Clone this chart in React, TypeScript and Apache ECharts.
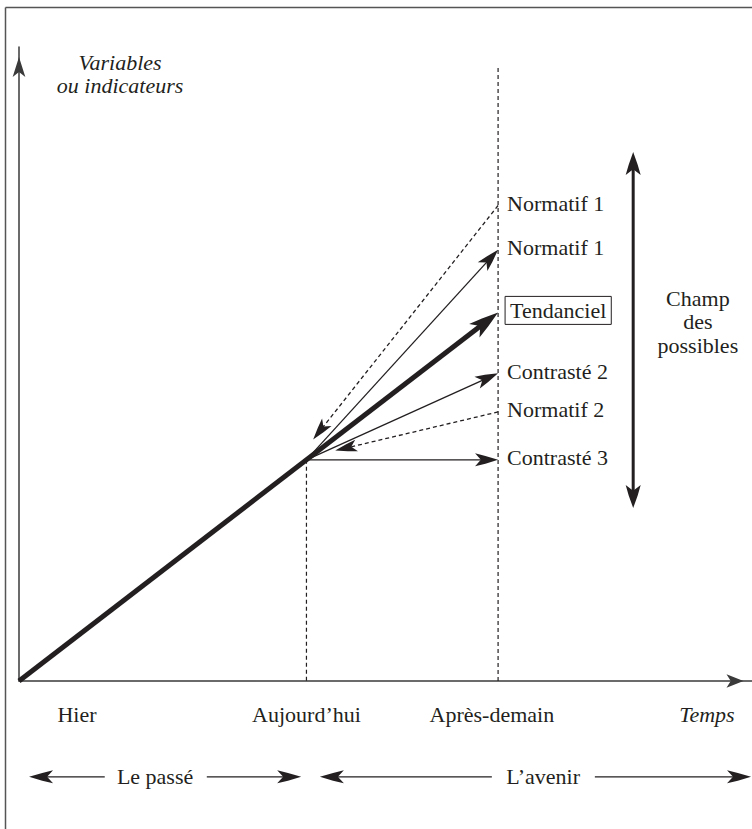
import React, { useEffect, useRef } from 'react';
import * as echarts from 'echarts';

// ---------- data (abstract units of the scheme) ----------
const X_MAX = 15.3;
const Y_MAX = 17.2;
const ORIGIN = [0, 0];
const TODAY = [6, 6];
const HORIZON_X = 10;
const HORIZON_TOP = 16.63;

const scenarioNames = ['Normatif 1', 'Normatif 1', 'Tendanciel', 'Contrasté 2', 'Normatif 2', 'Contrasté 3'];
const scenarioEndY = [12.9, 11.7, 10, 8.35, 7.3, 6];
const scenarioKind = ['dashedIn', 'solid', 'trend', 'solid', 'dashedIn', 'solid'];
const inboundTips: (number[] | null)[] = [[6.14, 6.55], null, null, null, [6.6, 6.25], null];

const timeLabels = ['Hier', 'Aujourd’hui', 'Après-demain', 'Temps'];
const timeLabelX = [1.21, 6, 9.87, 14.36];
const TIME_LABEL_Y = -0.92;

const periodNames = ['Le passé', 'L’avenir'];
const periodStart = [0.21, 6.28];
const periodEnd = [5.89, 15.28];
const periodGapStart = [1.79, 9.87];
const periodGapEnd = [3.92, 12.02];
const periodTextX = [2.84, 10.94];
const PERIOD_Y = -2.6;

const FIELD_X = 12.82;
const FIELD_TOP = 14.35;
const FIELD_BOTTOM = 4.69;
const fieldLabel = ['Champ', 'des', 'possibles'];
const FIELD_LABEL_X = 14.17;
const FIELD_LABEL_Y = 9.74;

const yTitle = ['Variables', 'ou indicateurs'];
const Y_TITLE_X = 2.11;
const Y_TITLE_Y = 16.48;

// ---------- styling ----------
const FAMILY = "'Liberation Serif', 'DejaVu Serif', serif";
const INK = '#231f20';
const FS = 22;
const font = (italic = false) => `${italic ? 'italic ' : ''}${FS}px ${FAMILY}`;

type Heads = 'none' | 'start' | 'end' | 'both';

function arrowSeries(
  id: string,
  segs: number[][],
  o: { width: number; dash?: number[]; heads: Heads; len?: number; wid?: number; color?: string }
) {
  const len = o.len ?? 22;
  const wid = o.wid ?? 12;
  const color = o.color ?? INK;
  return {
    type: 'custom',
    id,
    coordinateSystem: 'cartesian2d',
    silent: true,
    clip: false,
    z: 3,
    data: segs,
    encode: { x: [0, 2], y: [1, 3] },
    renderItem: (params: any, api: any) => {
      const a = api.coord([api.value(0), api.value(1)]);
      const b = api.coord([api.value(2), api.value(3)]);
      const dx = b[0] - a[0];
      const dy = b[1] - a[1];
      const L = Math.hypot(dx, dy) || 1;
      const u = [dx / L, dy / L];
      const n = [-u[1], u[0]];
      const head = (tip: number[], dir: number[]) => {
        const base = [tip[0] - dir[0] * len, tip[1] - dir[1] * len];
        const notch = [tip[0] - dir[0] * len * 0.75, tip[1] - dir[1] * len * 0.75];
        const mid = (k: number, side: number) => [
          tip[0] - dir[0] * len * k + side * n[0] * wid * 0.3,
          tip[1] - dir[1] * len * k + side * n[1] * wid * 0.3,
        ];
        return {
          type: 'polygon',
          shape: {
            points: [
              tip,
              mid(0.55, 1),
              [base[0] + n[0] * wid / 2, base[1] + n[1] * wid / 2],
              notch,
              [base[0] - n[0] * wid / 2, base[1] - n[1] * wid / 2],
              mid(0.55, -1),
            ],
          },
          style: { fill: color, stroke: 'none' },
        };
      };
      const startHead = o.heads === 'start' || o.heads === 'both';
      const endHead = o.heads === 'end' || o.heads === 'both';
      const s = startHead ? [a[0] + u[0] * len * 0.7, a[1] + u[1] * len * 0.7] : a;
      const e = endHead ? [b[0] - u[0] * len * 0.7, b[1] - u[1] * len * 0.7] : b;
      const children: any[] = [
        {
          type: 'line',
          shape: { x1: s[0], y1: s[1], x2: e[0], y2: e[1] },
          style: { stroke: color, lineWidth: o.width, lineDash: o.dash ?? null, lineCap: 'butt' },
        },
      ];
      if (endHead) children.push(head(b, u));
      if (startHead) children.push(head(a, [-u[0], -u[1]]));
      return { type: 'group', children };
    },
  };
}

function textSeries(
  id: string,
  xs: number[],
  ys: number[],
  texts: string[],
  style: any,
  dx = 0,
  dy = 0,
  perItem?: (i: number) => any
) {
  return {
    type: 'custom',
    id,
    coordinateSystem: 'cartesian2d',
    silent: true,
    clip: false,
    z: 4,
    data: xs.map((x, i) => [x, ys[i]]),
    renderItem: (params: any, api: any) => {
      const i = params.dataIndex;
      const p = api.coord([api.value(0), api.value(1)]);
      const extra = perItem ? perItem(i) : {};
      return {
        type: 'text',
        x: p[0] + dx + (extra.dx ?? 0),
        y: p[1] + dy + (extra.dy ?? 0),
        style: {
          text: texts[i],
          fill: INK,
          font: font(false),
          align: 'center',
          verticalAlign: 'middle',
          ...style,
          ...(extra.style ?? {}),
        },
      };
    },
  };
}

function buildOption() {
  const trendSegs: number[][] = [];
  const solidSegs: number[][] = [];
  const dashedInSegs: number[][] = [];
  scenarioKind.forEach((k, i) => {
    if (k === 'trend') trendSegs.push([ORIGIN[0], ORIGIN[1], HORIZON_X, scenarioEndY[i]]);
    else if (k === 'solid') solidSegs.push([TODAY[0], TODAY[1], HORIZON_X, scenarioEndY[i]]);
    else {
      const tip = inboundTips[i] as number[];
      dashedInSegs.push([HORIZON_X, scenarioEndY[i], tip[0], tip[1]]);
    }
  });

  const guideSegs = [
    [TODAY[0], TODAY[1], TODAY[0], 0],
    [HORIZON_X, HORIZON_TOP, HORIZON_X, 0],
  ];

  const periodLeftSegs = periodStart.map((s, i) => [periodGapStart[i], PERIOD_Y, s, PERIOD_Y]);
  const periodRightSegs = periodEnd.map((e, i) => [periodGapEnd[i], PERIOD_Y, e, PERIOD_Y]);

  const tendIdx = scenarioKind.indexOf('trend');

  const axisLine = { show: true, lineStyle: { color: '#3a3a3a', width: 1.5 } };

  return {
    animation: false,
    backgroundColor: '#ffffff',
    textStyle: { fontFamily: FAMILY },
    grid: { left: 19, right: 0, top: 47, bottom: 148, containLabel: false },
    xAxis: {
      type: 'value',
      min: 0,
      max: X_MAX,
      axisLine: { ...axisLine, onZero: false, symbol: ['none', 'arrow'], symbolSize: [10, 17], symbolOffset: [0, -8.5] },
      axisTick: { show: false },
      axisLabel: { show: false },
      splitLine: { show: false },
    },
    yAxis: {
      type: 'value',
      min: 0,
      max: Y_MAX,
      axisLine: { ...axisLine, onZero: false, symbol: ['none', 'arrow'], symbolSize: [9.5, 20], symbolOffset: [0, -10] },
      axisTick: { show: false },
      axisLabel: { show: false },
      splitLine: { show: false },
    },
    graphic: [
      { type: 'line', silent: true, shape: { x1: 5.5, y1: 7.5, x2: 752, y2: 7.5 }, style: { stroke: '#555', lineWidth: 1.5 } },
      { type: 'line', silent: true, shape: { x1: 5.5, y1: 7.5, x2: 5.5, y2: 829 }, style: { stroke: '#555', lineWidth: 1.5 } },
    ],
    series: [
      arrowSeries('guides', guideSegs, { width: 1.2, dash: [4, 3], heads: 'none' }),
      arrowSeries('trend', trendSegs, { width: 5, heads: 'end', len: 30, wid: 17 }),
      arrowSeries('solid', solidSegs, { width: 1.3, heads: 'end', len: 23, wid: 13 }),
      arrowSeries('dashed-in', dashedInSegs, { width: 1.3, dash: [4, 3], heads: 'end', len: 22, wid: 12 }),
      arrowSeries('field', [[FIELD_X, FIELD_BOTTOM, FIELD_X, FIELD_TOP]], { width: 3, heads: 'both', len: 23, wid: 15 }),
      arrowSeries('period-left', periodLeftSegs, { width: 1.3, heads: 'end', len: 24, wid: 13 }),
      arrowSeries('period-right', periodRightSegs, { width: 1.3, heads: 'end', len: 24, wid: 13 }),
      textSeries(
        'scenario-labels',
        scenarioNames.map(() => HORIZON_X),
        scenarioEndY,
        scenarioNames,
        { align: 'left' },
        9,
        -2,
        (i) =>
          i === tendIdx
            ? { dx: -2, style: { padding: [3, 5, 3, 5], borderColor: INK, borderWidth: 1 } }
            : {}
      ),
      textSeries(
        'time-labels',
        timeLabelX,
        timeLabelX.map(() => TIME_LABEL_Y),
        timeLabels,
        {},
        0,
        0,
        (i) => (i === timeLabels.length - 1 ? { style: { font: font(true) } } : {})
      ),
      textSeries('period-labels', periodTextX, periodTextX.map(() => PERIOD_Y), periodNames, {}),
      textSeries('field-label', [FIELD_LABEL_X], [FIELD_LABEL_Y], [fieldLabel.join('\n')], { lineHeight: 23.5 }),
      textSeries('y-title', [Y_TITLE_X], [Y_TITLE_Y], [yTitle.join('\n')], { lineHeight: 23, font: font(true) }),
    ],
  };
}

export default function App() {
  const ref = useRef<HTMLDivElement>(null);
  useEffect(() => {
    if (!ref.current) return;
    const chart = echarts.init(ref.current, null, { renderer: 'svg' });
    chart.setOption(buildOption() as any);
    return () => chart.dispose();
  }, []);
  return (
    <div
      ref={ref}
      style={{ position: 'absolute', left: 0, top: 0, width: 752, height: 829, background: '#fff' }}
    />
  );
}
